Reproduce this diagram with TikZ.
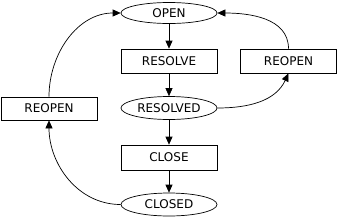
\documentclass[tikz,border=0pt]{standalone}
\usepackage{fontspec}
\setmainfont{DejaVu Sans}
\usetikzlibrary{shapes.geometric,arrows.meta}
\begin{document}
\begin{tikzpicture}[x=1pt,y=-1pt,
  every node/.style={font=\fontsize{12}{14}\selectfont, inner sep=0pt},
  state/.style={draw, ellipse, minimum width=96pt, minimum height=21pt, line width=0.7pt},
  act/.style={draw, rectangle, minimum width=96pt, minimum height=24pt, line width=0.7pt},
  conn/.style={-{Triangle[length=8pt,width=7pt]}, line width=0.7pt}]
\useasboundingbox (0,0) rectangle (338,218);
\node[state] (open) at (169,13) {OPEN};
\node[act] (resolve) at (169,61) {RESOLVE};
\node[act] (reopenR) at (288.5,61) {REOPEN};
\node[state, minimum height=23pt] (resolved) at (169,108) {RESOLVED};
\node[act, minimum height=23pt] (reopenL) at (49,108.5) {REOPEN};
\node[act, minimum height=25pt] (close) at (169,157.5) {CLOSE};
\node[state, minimum height=23pt] (closed) at (169,204.5) {CLOSED};
\draw[conn] (open) -- (resolve);
\draw[conn] (resolve) -- (resolved);
\draw[conn] (resolved) -- (close);
\draw[conn] (close) -- (closed);
\draw[conn] (resolved.east) to[out=0,in=-115] (reopenR.south);
\draw[conn] (reopenR.north) to[out=90,in=0] (open.east);
\draw[conn] (closed.west) to[out=180,in=-90] (reopenL.south);
\draw[conn] (reopenL.north) to[out=90,in=180] (open.west);
\end{tikzpicture}
\end{document}
